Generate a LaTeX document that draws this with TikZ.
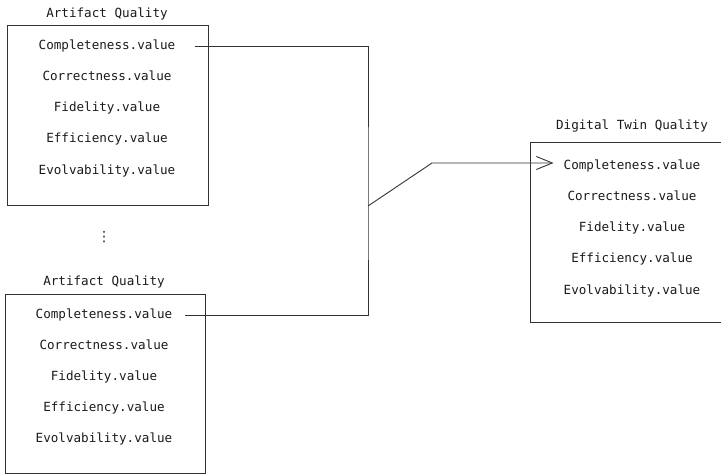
\documentclass[tikz,border=0pt]{standalone}
\usepackage{fontspec}
\setmonofont{DejaVu Sans Mono}
\newfontfamily\symfont{DejaVu Sans}
\usetikzlibrary{arrows.meta}
\definecolor{ink}{HTML}{1A1A1A}
\definecolor{wire}{HTML}{333333}
\begin{document}
\begin{tikzpicture}[x=1pt,y=-1pt,
  label/.style={text=ink, font=\ttfamily\fontsize{12.6}{14}\selectfont, inner sep=0pt,
    text height=9.6pt, text depth=3pt, anchor=center, yshift=-1.3pt},
  frame/.style={draw=wire, line width=1.2pt, anchor=north west, inner sep=0pt},
  link/.style={draw=wire, line width=0.9pt},
  barb/.style={-{Straight Barb[length=16pt,width=13pt,line width=0.9pt]}}]
\useasboundingbox (0,0) rectangle (721,475);

% first artifact
\node[label] (t1) at (107,13) {Artifact Quality};
\node[frame, minimum width=201pt, minimum height=180pt] (b1) at (7,25) {};
\node[label] (a1c) at (107,45) {Completeness.value};
\node[label] (a1r) at (107,76) {Correctness.value};
\node[label] (a1f) at (107,107) {Fidelity.value};
\node[label] (a1e) at (107,138) {Efficiency.value};
\node[label] (a1v) at (107,170) {Evolvability.value};

% ellipsis
\node[text=ink, font=\symfont\fontsize{14}{15}\selectfont, inner sep=0pt] (dots) at (104,237) {⋮};

% second artifact
\node[label] (t2) at (104,281) {Artifact Quality};
\node[frame, minimum width=200pt, minimum height=179pt] (b2) at (5,294) {};
\node[label] (a2c) at (104,314) {Completeness.value};
\node[label] (a2r) at (104,345) {Correctness.value};
\node[label] (a2f) at (104,376) {Fidelity.value};
\node[label] (a2e) at (104,407) {Efficiency.value};
\node[label] (a2v) at (104,438) {Evolvability.value};

% digital twin
\node[label] (t3) at (632,125) {Digital Twin Quality};
\node[frame, minimum width=200pt, minimum height=180pt] (b3) at (530,142) {};
\node[label] (dc) at (632,165) {Completeness.value};
\node[label] (dr) at (632,196) {Correctness.value};
\node[label] (df) at (632,227) {Fidelity.value};
\node[label] (de) at (632,258) {Efficiency.value};
\node[label] (dv) at (632,290) {Evolvability.value};

% aggregation wiring
\coordinate (j) at (368,206);
\coordinate (k) at (432,163);
\draw[link] ([xshift=20pt]a1c.east) -| (j) |- ([xshift=13pt]a2c.east);
\draw[link, barb] (j) -- (k) -- ([xshift=-10pt]dc.west |- k);
\end{tikzpicture}
\end{document}
